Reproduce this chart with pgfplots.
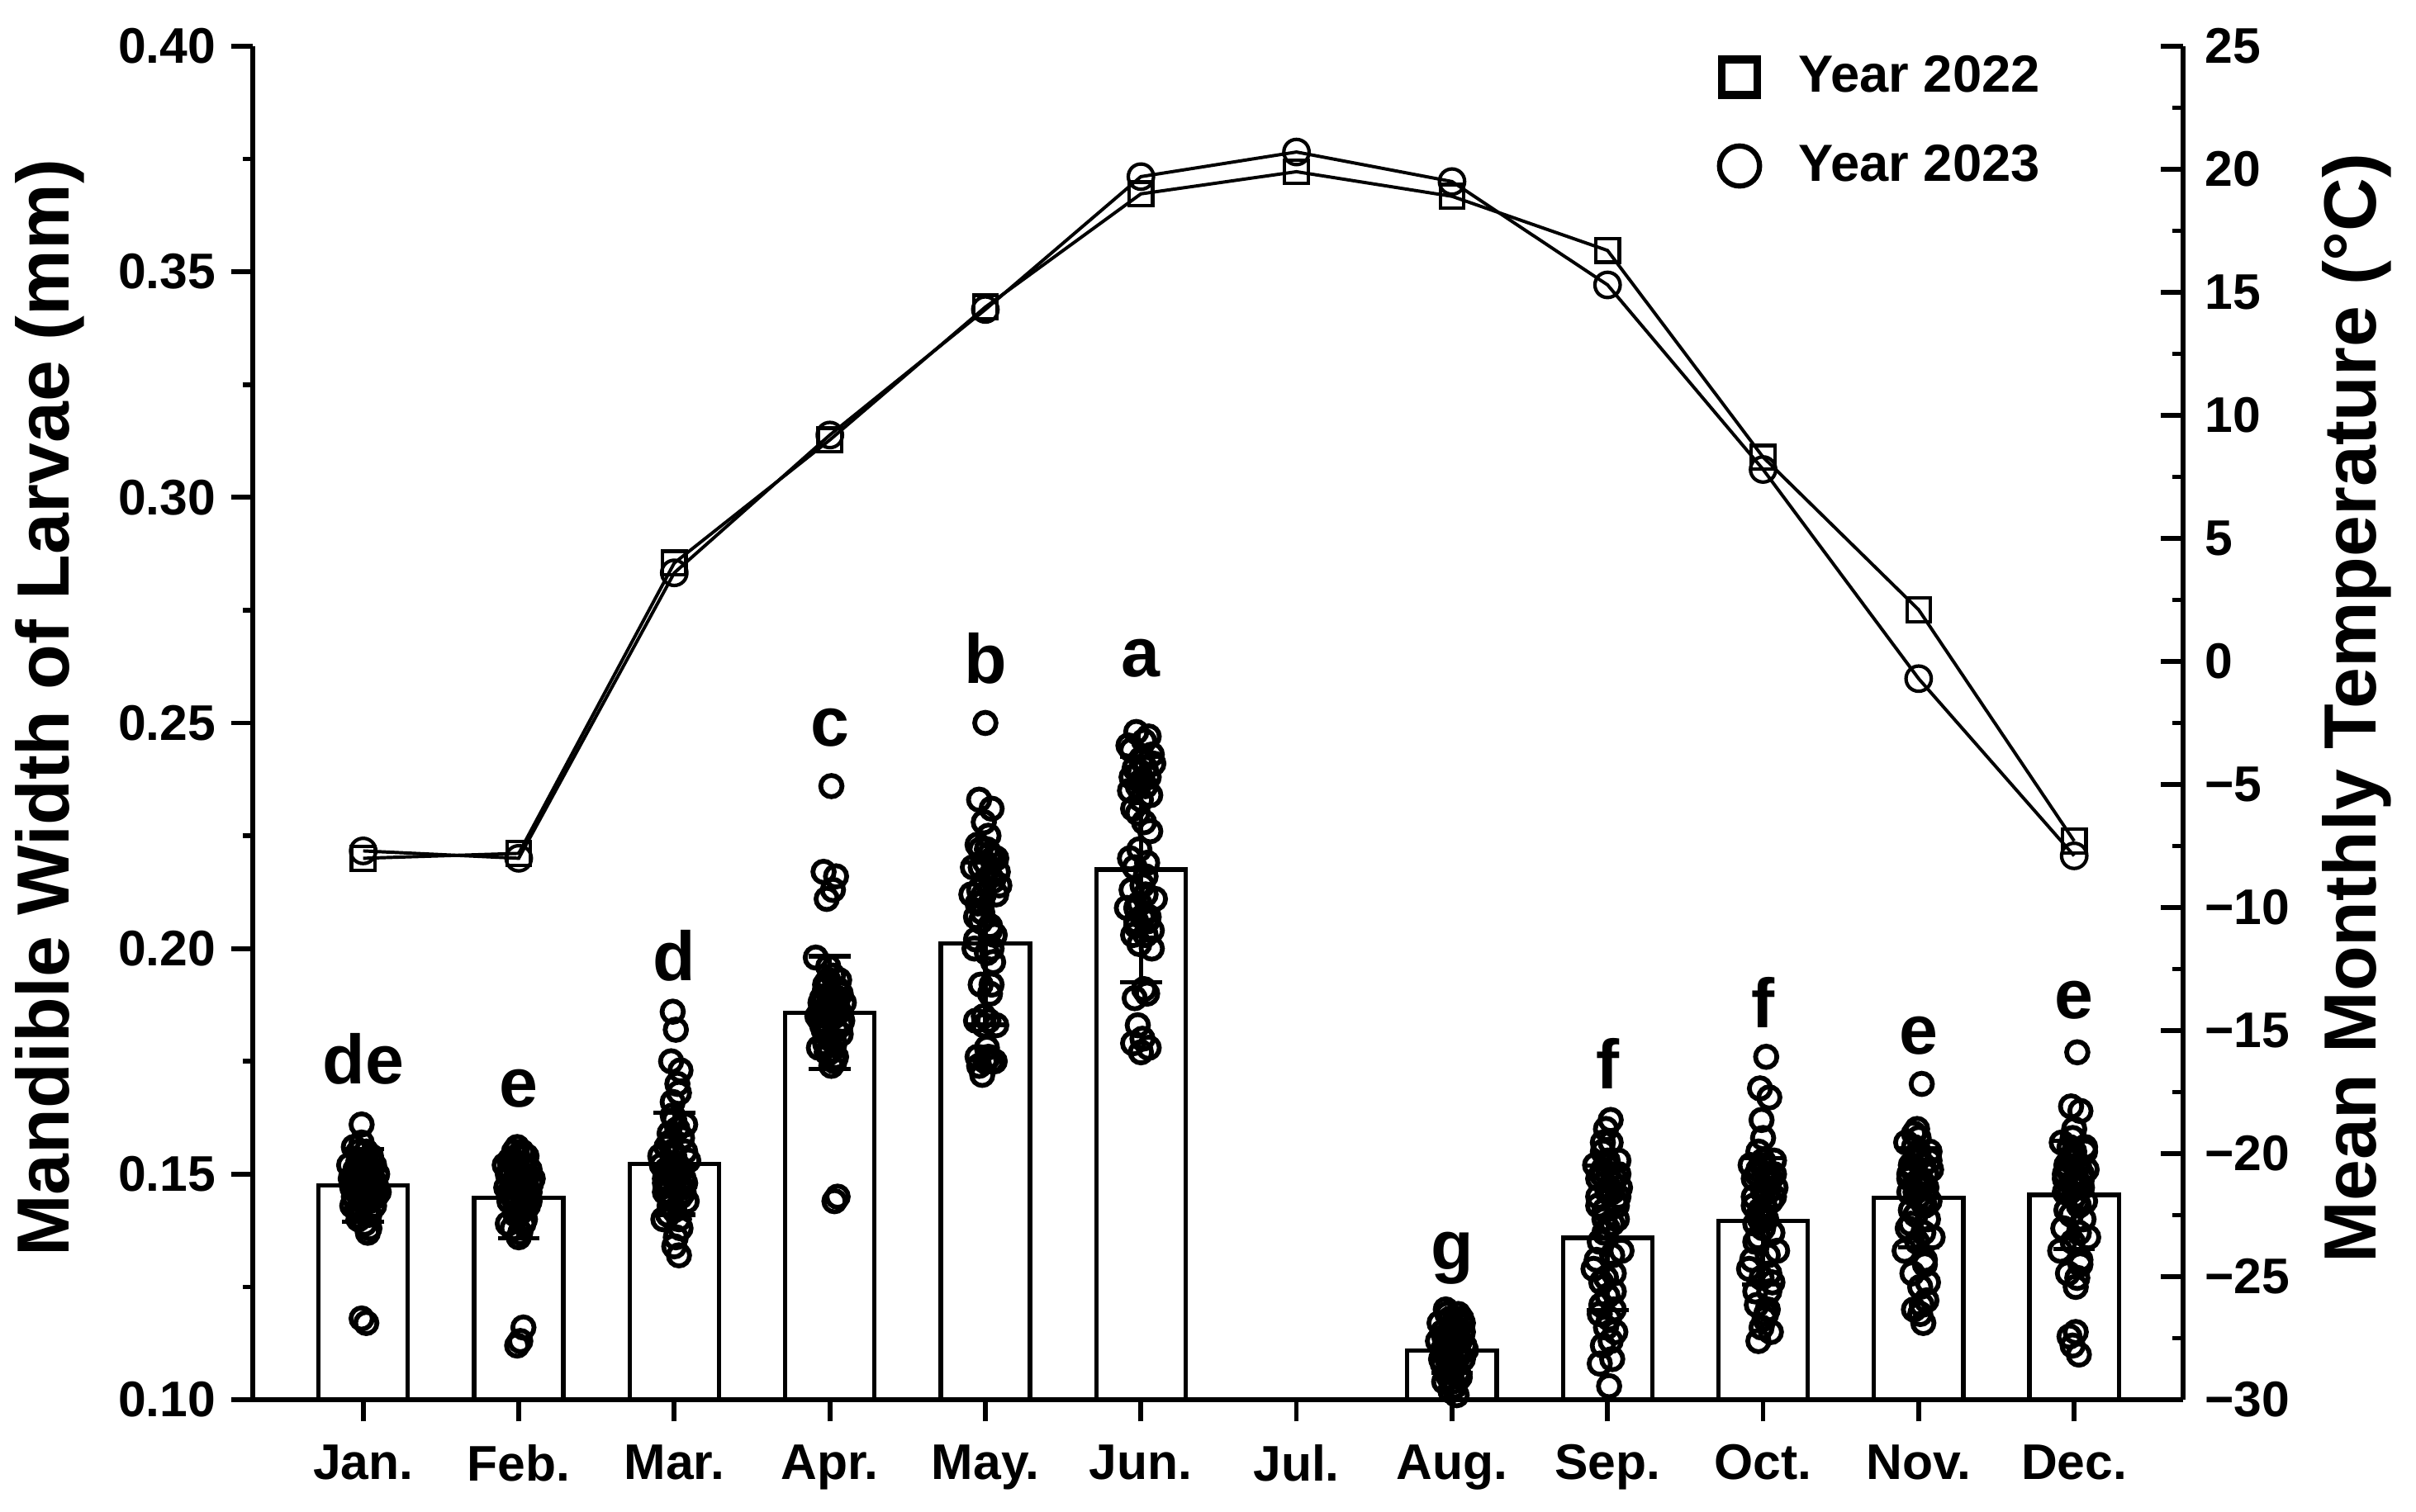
\documentclass[border=0pt]{standalone}
\usepackage{fontspec}
\setmainfont{Liberation Sans}
\usepackage{pgfplots}
\pgfplotsset{compat=1.18}
\newcommand{\tickfont}{\fontsize{11.5}{13.8}\selectfont\bfseries}
\newcommand{\legfont}{\fontsize{12}{14.4}\selectfont\bfseries}
\newcommand{\labfont}{\fontsize{17}{20}\selectfont\bfseries}
\newcommand{\letfont}{\fontsize{16}{19}\selectfont\bfseries}
\begin{document}
\begin{tikzpicture}
\begin{axis}[
  at={(0,0)}, anchor=south west,
  scale only axis, width=15.58cm, height=10.927cm,
  xmin=0.29, xmax=12.70, ymin=0.10, ymax=0.40,
  axis x line*=bottom, axis y line*=left,
  axis line style={line width=1.1pt, -},
  xtick={1,2,3,4,5,6,7,8,9,10,11,12},
  xticklabels={Jan.,Feb.,Mar.,Apr.,May.,Jun.,Jul.,Aug.,Sep.,Oct.,Nov.,Dec.},
  ytick={0.10,0.15,0.20,0.25,0.30,0.35,0.40},
  minor y tick num=1,
  tick align=outside,
  major tick length=0.175cm, minor tick length=0.08cm,
  every tick/.style={line width=1.1pt, black},
  tick label style={font=\tickfont},
  x tick label style={yshift=-1.8pt},
  y tick label style={/pgf/number format/.cd, fixed, fixed zerofill, precision=2, assume math mode=true},
  ylabel={Mandible Width of Larvae (mm)},
  ylabel style={font=\labfont, at={(axis description cs:-0.1053,0.511)}, anchor=center},
]
\addplot[ybar, bar width=0.574, fill=white, draw=black, line width=1pt,
  error bars/.cd, y dir=both, y explicit,
  error bar style={line width=1pt, black},
  error mark options={rotate=90, mark size=4.8pt, line width=1pt, black}]
  table[x=x, y=y, y error=e] {
x y e
1 0.1475 0.008
2 0.1448 0.009
3 0.1523 0.0113
4 0.1858 0.0125
5 0.2011 0.018
6 0.2175 0.025
8 0.1109 0.005
9 0.1359 0.016
10 0.1396 0.014
11 0.1448 0.011
12 0.1454 0.012
};
\addplot[only marks, mark=o, mark size=2.45pt, mark options={line width=1.1pt, black}] coordinates {
(0.94,0.148)(1.03,0.150)(0.98,0.146)(1.07,0.152)(1.00,0.144)(0.92,0.149)(1.05,0.147)(0.97,0.153)(1.08,0.145)(0.95,0.151)(1.02,0.155)(0.93,0.143)(1.06,0.149)(0.99,0.157)(1.04,0.141)(0.96,0.146)(1.01,0.139)(1.09,0.150)(0.91,0.152)(1.05,0.154)(0.97,0.148)(1.03,0.137)(0.99,0.161)(1.07,0.143)(0.94,0.156)(1.02,0.147)(0.96,0.142)(1.04,0.151)(0.98,0.149)(1.06,0.145)(0.93,0.147)(1.01,0.153)(1.08,0.148)(0.99,0.118)(1.02,0.117)(0.97,0.140)(1.04,0.138)(0.95,0.150)(1.10,0.146)
(0.96,0.150)(1.03,0.146)(1.00,0.152)(0.98,0.143)(1.05,0.150)(0.94,0.145)(1.01,0.148)(1.07,0.147)(0.97,0.155)(1.03,0.141)(0.99,0.151)(1.04,0.144)(0.95,0.147)(1.02,0.153)(1.00,0.149)
(1.94,0.146)(2.03,0.149)(1.98,0.143)(2.07,0.151)(2.00,0.141)(1.92,0.147)(2.05,0.144)(1.97,0.153)(2.08,0.148)(1.95,0.150)(2.02,0.155)(1.93,0.139)(2.06,0.146)(1.99,0.156)(2.04,0.140)(1.96,0.145)(2.01,0.137)(2.09,0.149)(1.91,0.152)(2.05,0.154)(1.97,0.147)(2.03,0.142)(1.99,0.150)(2.07,0.144)(1.94,0.153)(2.02,0.148)(1.96,0.138)(2.04,0.151)(1.98,0.145)(2.06,0.143)(1.93,0.150)(2.01,0.113)(2.03,0.116)(1.99,0.112)(2.00,0.136)(1.97,0.155)
(1.96,0.148)(2.03,0.145)(2.00,0.151)(1.98,0.141)(2.05,0.149)(1.94,0.144)(2.01,0.147)(2.07,0.146)(1.97,0.152)(2.03,0.139)(1.99,0.154)(2.04,0.143)(1.95,0.146)(2.02,0.150)(2.00,0.142)
(2.94,0.148)(3.03,0.150)(2.98,0.145)(3.07,0.155)(3.00,0.142)(2.92,0.152)(3.05,0.147)(2.97,0.157)(3.08,0.144)(2.95,0.151)(3.02,0.160)(2.93,0.140)(3.06,0.149)(2.99,0.163)(3.04,0.138)(2.96,0.146)(3.01,0.136)(3.09,0.153)(2.91,0.154)(3.05,0.158)(2.97,0.143)(3.03,0.132)(2.99,0.166)(3.07,0.161)(2.94,0.149)(3.02,0.170)(2.96,0.141)(3.04,0.173)(2.98,0.175)(3.01,0.182)(2.99,0.186)(3.03,0.168)(2.95,0.156)(3.06,0.146)(3.00,0.134)(2.98,0.152)
(2.96,0.150)(3.03,0.147)(3.00,0.154)(2.98,0.143)(3.05,0.151)(2.94,0.146)(3.01,0.149)(3.07,0.148)(2.97,0.159)(3.03,0.140)(2.99,0.155)(3.04,0.145)(2.95,0.148)(3.02,0.152)(3.00,0.162)
(3.94,0.186)(4.03,0.188)(3.98,0.183)(4.07,0.190)(4.00,0.180)(3.92,0.185)(4.05,0.187)(3.97,0.192)(4.08,0.184)(3.95,0.189)(4.02,0.194)(3.93,0.178)(4.06,0.186)(3.99,0.196)(4.04,0.176)(3.96,0.182)(4.01,0.174)(4.09,0.188)(3.91,0.198)(4.05,0.191)(3.97,0.179)(4.03,0.175)(3.99,0.185)(4.07,0.181)(3.94,0.188)(4.02,0.213)(3.96,0.217)(4.04,0.216)(3.98,0.211)(4.01,0.236)(4.03,0.144)(4.05,0.145)(4.00,0.187)(3.95,0.183)(4.06,0.193)(3.98,0.177)
(3.96,0.188)(4.03,0.185)(4.00,0.190)(3.98,0.181)(4.05,0.189)(3.94,0.184)(4.01,0.186)(4.07,0.183)(3.97,0.191)(4.03,0.179)(3.99,0.193)(4.04,0.182)(3.95,0.186)(4.02,0.189)(4.00,0.177)
(4.94,0.202)(5.03,0.205)(4.98,0.208)(5.07,0.212)(5.00,0.215)(4.92,0.218)(5.05,0.220)(4.97,0.222)(5.08,0.217)(4.95,0.210)(5.02,0.225)(4.93,0.200)(5.06,0.203)(4.99,0.228)(5.04,0.231)(4.96,0.233)(5.01,0.199)(5.09,0.214)(4.91,0.212)(5.05,0.197)(4.97,0.192)(5.03,0.190)(4.99,0.185)(5.07,0.183)(4.94,0.184)(5.02,0.176)(4.96,0.174)(5.04,0.175)(4.98,0.172)(5.01,0.178)(5.06,0.175)(4.95,0.176)(5.00,0.250)(4.97,0.206)(5.03,0.221)(4.99,0.183)(5.04,0.192)
(4.96,0.213)(5.03,0.216)(5.00,0.219)(4.98,0.210)(5.05,0.215)(4.94,0.207)(5.01,0.222)(5.07,0.220)(4.97,0.218)(5.03,0.204)(4.99,0.212)(5.04,0.200)(4.95,0.223)(5.02,0.184)(5.00,0.175)
(5.94,0.238)(6.03,0.240)(5.98,0.236)(6.07,0.243)(6.00,0.233)(5.92,0.245)(6.05,0.247)(5.97,0.248)(6.08,0.241)(5.95,0.231)(6.02,0.228)(5.93,0.235)(6.06,0.226)(5.99,0.222)(6.04,0.219)(5.96,0.218)(6.01,0.214)(6.09,0.211)(5.91,0.209)(6.05,0.207)(5.97,0.205)(6.03,0.203)(5.99,0.210)(6.07,0.200)(5.94,0.213)(6.02,0.191)(5.96,0.189)(6.04,0.190)(5.98,0.183)(6.01,0.180)(6.05,0.178)(5.95,0.179)(6.00,0.177)(5.97,0.206)(6.03,0.216)(5.99,0.239)(6.06,0.234)(5.93,0.220)
(5.96,0.240)(6.03,0.236)(6.00,0.242)(5.98,0.230)(6.05,0.238)(5.94,0.244)(6.01,0.207)(6.07,0.204)(5.97,0.209)(6.03,0.212)(5.99,0.201)(6.04,0.206)(5.95,0.203)(6.02,0.246)(6.00,0.237)
(7.94,0.111)(8.03,0.113)(7.98,0.108)(8.07,0.115)(8.00,0.106)(7.92,0.117)(8.05,0.110)(7.97,0.119)(8.08,0.112)(7.95,0.104)(8.02,0.116)(7.93,0.109)(8.06,0.118)(7.99,0.102)(8.04,0.114)(7.96,0.120)(8.01,0.107)(8.09,0.111)(7.91,0.113)(8.05,0.105)(7.97,0.112)(8.03,0.101)(7.99,0.118)(8.07,0.109)(7.94,0.115)(8.02,0.103)(7.96,0.110)(8.04,0.119)(7.98,0.114)(8.01,0.108)
(7.96,0.113)(8.03,0.110)(8.00,0.116)(7.98,0.105)(8.05,0.113)(7.94,0.108)(8.01,0.112)(8.07,0.117)(7.97,0.109)(8.03,0.115)(7.99,0.111)(8.04,0.106)(7.95,0.114)(8.02,0.118)(8.00,0.104)
(8.94,0.145)(9.03,0.148)(8.98,0.142)(9.07,0.150)(9.00,0.138)(8.92,0.152)(9.05,0.144)(8.97,0.155)(9.08,0.147)(8.95,0.135)(9.02,0.157)(8.93,0.131)(9.06,0.140)(8.99,0.127)(9.04,0.124)(8.96,0.121)(9.01,0.118)(9.09,0.133)(8.91,0.129)(9.05,0.115)(8.97,0.112)(9.03,0.109)(8.99,0.160)(9.07,0.153)(8.94,0.149)(9.02,0.162)(8.96,0.126)(9.04,0.120)(8.98,0.137)(9.01,0.103)(9.06,0.143)(8.95,0.108)(9.00,0.146)(8.97,0.151)(9.03,0.139)(8.99,0.116)
(8.96,0.150)(9.03,0.146)(9.00,0.153)(8.98,0.140)(9.05,0.149)(8.94,0.143)(9.01,0.147)(9.07,0.145)(8.97,0.157)(9.03,0.132)(8.99,0.152)(9.04,0.128)(8.95,0.119)(9.02,0.113)(9.00,0.123)
(9.94,0.145)(10.03,0.148)(9.98,0.142)(10.07,0.150)(10.00,0.138)(9.92,0.152)(10.05,0.144)(9.97,0.155)(10.08,0.147)(9.95,0.135)(10.02,0.140)(9.93,0.131)(10.06,0.137)(9.99,0.127)(10.04,0.124)(9.96,0.121)(10.01,0.118)(10.09,0.133)(9.91,0.129)(10.05,0.115)(9.97,0.113)(10.03,0.150)(9.99,0.162)(10.07,0.153)(9.94,0.149)(10.02,0.176)(9.98,0.169)(10.04,0.167)(10.00,0.158)(10.01,0.143)(10.06,0.126)(9.95,0.139)(10.00,0.146)(9.97,0.151)(10.03,0.120)(9.99,0.116)
(9.96,0.150)(10.03,0.146)(10.00,0.153)(9.98,0.140)(10.05,0.149)(9.94,0.143)(10.01,0.147)(10.07,0.145)(9.97,0.136)(10.03,0.132)(9.99,0.152)(10.04,0.128)(9.95,0.124)(10.02,0.119)(10.00,0.141)
(10.94,0.150)(11.03,0.152)(10.98,0.148)(11.07,0.155)(11.00,0.145)(10.92,0.157)(11.05,0.147)(10.97,0.159)(11.08,0.151)(10.95,0.142)(11.02,0.144)(10.93,0.138)(11.06,0.140)(10.99,0.135)(11.04,0.131)(10.96,0.128)(11.01,0.125)(11.09,0.136)(10.91,0.133)(11.05,0.122)(10.97,0.120)(11.03,0.117)(10.99,0.160)(11.07,0.153)(10.94,0.149)(11.02,0.170)(10.98,0.146)(11.04,0.143)(11.00,0.158)(11.01,0.119)(11.06,0.126)(10.95,0.139)(11.00,0.154)
(10.96,0.151)(11.03,0.148)(11.00,0.155)(10.98,0.141)(11.05,0.150)(10.94,0.146)(11.01,0.149)(11.07,0.144)(10.97,0.156)(11.03,0.137)(10.99,0.153)(11.04,0.130)(10.95,0.152)(11.02,0.121)(11.00,0.147)
(11.94,0.150)(12.03,0.152)(11.98,0.148)(12.07,0.155)(12.00,0.145)(11.92,0.157)(12.05,0.147)(11.97,0.153)(12.08,0.151)(11.95,0.142)(12.02,0.144)(11.93,0.138)(12.06,0.140)(11.99,0.135)(12.04,0.131)(11.96,0.128)(12.01,0.125)(12.09,0.136)(11.91,0.133)(12.05,0.149)(11.97,0.146)(12.03,0.143)(11.99,0.158)(12.07,0.156)(11.94,0.149)(12.02,0.177)(11.98,0.165)(12.04,0.164)(12.00,0.160)(12.01,0.115)(11.99,0.112)(12.03,0.110)(11.97,0.114)(12.00,0.154)
(11.96,0.151)(12.03,0.148)(12.00,0.155)(11.98,0.141)(12.05,0.150)(11.94,0.146)(12.01,0.149)(12.07,0.144)(11.97,0.156)(12.03,0.137)(11.99,0.153)(12.04,0.130)(11.95,0.152)(12.02,0.127)(12.00,0.147)
};
\node[font=\letfont] at (axis cs:1,0.1755) {de};
\node[font=\letfont] at (axis cs:2,0.169) {e};
\node[font=\letfont] at (axis cs:3,0.1984) {d};
\node[font=\letfont] at (axis cs:4,0.249) {c};
\node[font=\letfont] at (axis cs:5,0.2643) {b};
\node[font=\letfont] at (axis cs:6,0.2643) {a};
\node[font=\letfont] at (axis cs:8,0.1314) {g};
\node[font=\letfont] at (axis cs:9,0.1745) {f};
\node[font=\letfont] at (axis cs:10,0.1881) {f};
\node[font=\letfont] at (axis cs:11,0.1806) {e};
\node[font=\letfont] at (axis cs:12,0.1885) {e};
\end{axis}
\begin{axis}[
  at={(0,0)}, anchor=south west,
  scale only axis, width=15.58cm, height=10.927cm,
  xmin=0.29, xmax=12.70, ymin=-30, ymax=25,
  axis x line=none, axis y line*=right,
  axis line style={line width=1.1pt, -},
  ytick={-30,-25,-20,-15,-10,-5,0,5,10,15,20,25},
  yticklabels={−30,−25,−20,−15,−10,−5,0,5,10,15,20,25},
  minor y tick num=1,
  tick align=inside,
  major tick length=0.18cm, minor tick length=0.087cm,
  every tick/.style={line width=1.1pt, black},
  tick label style={font=\tickfont},
  y tick label style={xshift=1.5pt},
  ylabel={Mean Monthly Temperature (°C)},
  ylabel style={font=\labfont, at={(axis description cs:1.0899,0.511)}, anchor=center},
  legend style={at={(rel axis cs:0.7594,1.0)}, anchor=north west, draw=none, fill=none,
    font=\legfont, row sep=6.5pt, inner sep=0pt, nodes={inner sep=2pt},
    /tikz/column 1/.style={column sep=7pt}},
  legend cell align=left,
]
\addplot[black, line width=0.75pt, mark=square, mark size=2.7pt, mark options={solid, line width=0.8pt}, forget plot] coordinates {
(1,-8.0)(2,-7.8)(3,4.0)(4,9.0)(5,14.4)(6,19.0)(7,19.9)(8,18.9)(9,16.7)(10,8.3)(11,2.1)(12,-7.3)
};
\addplot[black, line width=0.75pt, mark=o, mark size=2.9pt, mark options={solid, line width=0.8pt}, forget plot] coordinates {
(1,-7.7)(2,-8.0)(3,3.6)(4,9.2)(5,14.3)(6,19.7)(7,20.7)(8,19.5)(9,15.3)(10,7.8)(11,-0.7)(12,-7.9)
};
\addlegendimage{only marks, mark=square, mark size=4.1pt, mark options={line width=1.8pt, black}}
\addlegendentry{Year 2022}
\addlegendimage{only marks, mark=o, mark size=4.6pt, mark options={line width=1.2pt, black}}
\addlegendentry{Year 2023}
\end{axis}
\pgfresetboundingbox
\path[use as bounding box] (-2.04cm,-0.9cm) rectangle (17.46cm,11.3cm);
\end{tikzpicture}
\end{document}
